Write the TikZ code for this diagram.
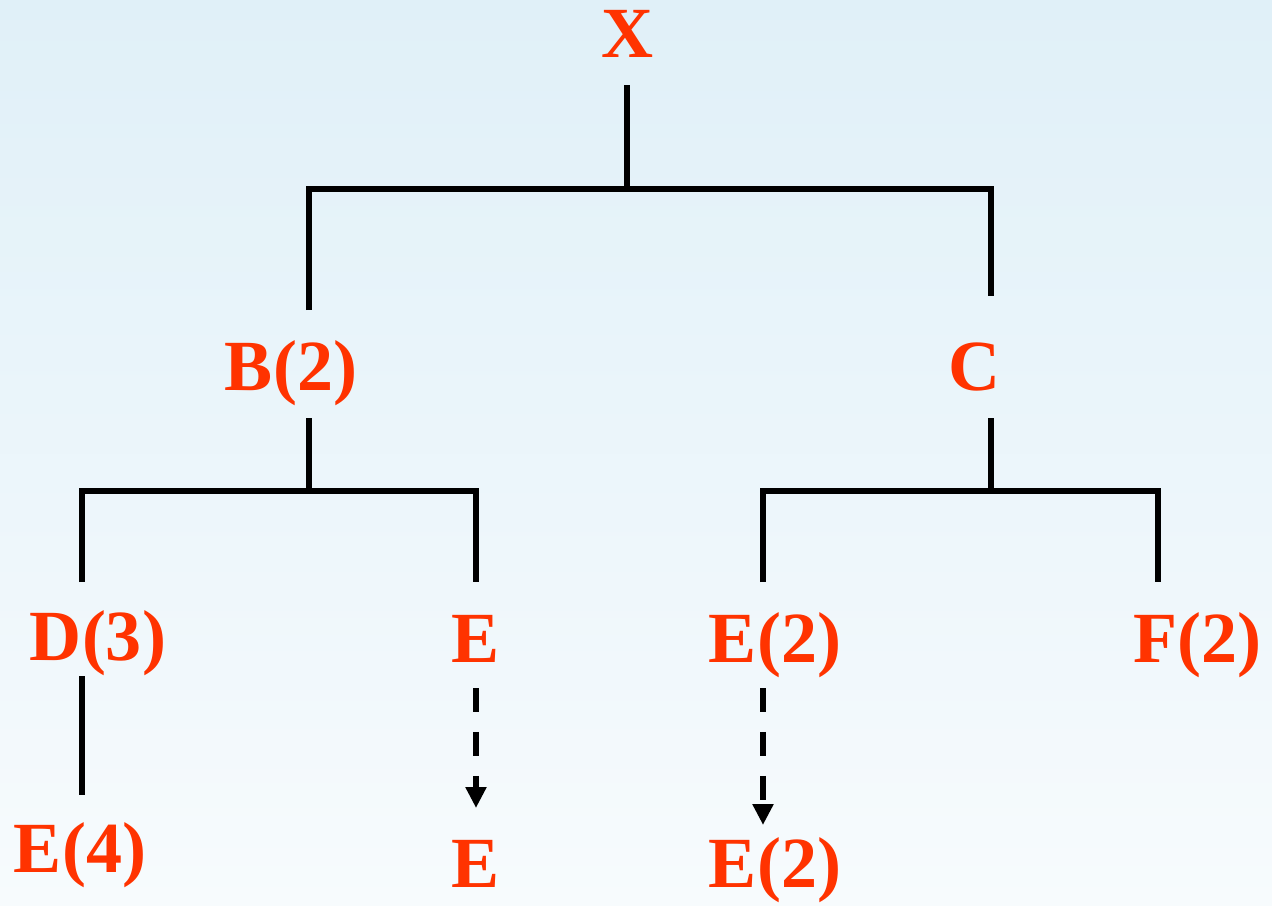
\documentclass[tikz,border=0pt]{standalone}
\usepackage{fontspec}
\setmainfont{Liberation Serif}
\usepackage{xcolor}
\definecolor{cLabel}{HTML}{FF3300}
\definecolor{cLine}{HTML}{000000}
\definecolor{cBgTop}{HTML}{E0F0F8}
\definecolor{cBgBot}{HTML}{F7FBFD}
\usetikzlibrary{positioning,arrows.meta,calc}
\tikzset{
  node-label/.style={anchor=base,inner sep=0pt,text=cLabel,
    font=\fontsize{41}{49}\selectfont\bfseries},
  line-tree/.style={line width=3.4pt,draw=cLine},
  arrow-dash/.style={-{Triangle[length=0.42cm,width=0.4cm]},line width=3.4pt,
    draw=cLine,dash pattern=on 0.48cm off 0.4cm},
}

\begin{document}
\begin{tikzpicture}[x=0.02cm,y=-0.02cm]
  \shade[top color=cBgTop,bottom color=cBgBot] (0,0) rectangle (1272,906);
  \useasboundingbox (0,0) rectangle (1272,906);
  % labels, placed on their baselines
  \node[node-label] (X)  at (628,57)  {X};
  \node[node-label] (B2) at (291,390) {B(2)};
  \node[node-label] (C)  at (975,390) {C};
  \node[node-label] (D3) at (98,660)  {D(3)};
  \node[node-label] (E1) at (476,662) {E};
  \node[node-label] (E2) at (775,662) {E(2)};
  \node[node-label] (F2) at (1197,662){F(2)};
  \node[node-label] (E4) at (80,872)  {E(4)};
  \node[node-label] (E3) at (476,887) {E};
  \node[node-label] (E5) at (775,887) {E(2)};
  % junctions of the tree
  \coordinate (jX)  at (627,189);
  \coordinate (jB)  at (309,491);
  \coordinate (jC)  at (991,491);
  \coordinate (bD)  at (82,491);
  \coordinate (bE)  at (476,491);
  \coordinate (bE2) at (763,491);
  \coordinate (bF)  at (1158,491);
  % X -> B(2), C
  \draw[line-tree] (jX |- X.base) ++(0,28) -- (jX);
  \draw[line-tree] ($(jB |- B2.base)+(0,-80)$) |- (jX) -| ($(jC |- C.base)+(0,-94)$);
  % B(2) -> D(3), E
  \draw[line-tree] (jB |- B2.base) ++(0,28) -- (jB);
  \draw[line-tree] ($(bD |- D3.base)+(0,-78)$) -- (bD) -- (bE) -- ($(bE |- E1.base)+(0,-80)$);
  % C -> E(2), F(2)
  \draw[line-tree] (jC |- C.base) ++(0,28) -- (jC);
  \draw[line-tree] ($(bE2 |- E2.base)+(0,-80)$) -- (bE2) -- (bF) -- ($(bF |- F2.base)+(0,-80)$);
  % D(3) -> E(4)
  \draw[line-tree] ($(bD |- D3.base)+(0,16)$) -- ($(bD |- E4.base)+(0,-77)$);
  % dashed arrows
  \draw[arrow-dash] ($(bE |- E1.base)+(0,26)$) -- ($(bE |- E3.base)+(0,-79)$);
  \draw[arrow-dash] ($(bE2 |- E2.base)+(0,26)$) -- ($(bE2 |- E5.base)+(0,-62)$);
\end{tikzpicture}
\end{document}
